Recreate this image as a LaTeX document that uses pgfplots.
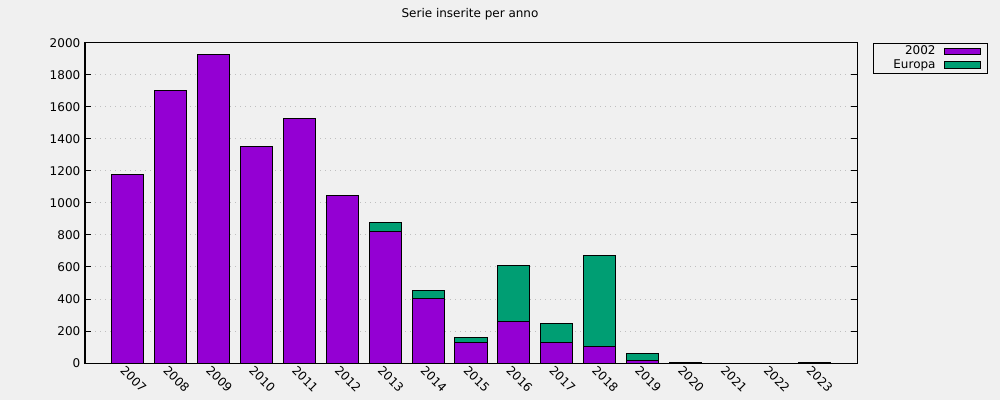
\documentclass[border=0pt]{standalone}
\usepackage{pgfplots}
\pgfplotsset{compat=1.18}
\usepackage{fontspec}
\setmainfont{DejaVu Sans}
\definecolor{bg}{HTML}{F0F0F0}
\definecolor{cpurple}{HTML}{9400D3}
\definecolor{cgreen}{HTML}{009E73}
\begin{document}
\begin{tikzpicture}
\fill[bg] (0pt,0pt) rectangle (750pt,300pt);
\useasboundingbox (0pt,0pt) rectangle (750pt,300pt);
\begin{axis}[
  at={(63.75pt,27.75pt)}, anchor=south west,
  scale only axis, width=579pt, height=240pt,
  font=\fontsize{9}{10.5}\selectfont,
  /pgf/number format/assume math mode=true,
  ybar stacked, bar width=0.75,
  xmin=-1, xmax=17, ymin=0, ymax=2000,
  xtick={0,...,16},
  xticklabels={2007,2008,2009,2010,2011,2012,2013,2014,2015,2016,2017,2018,2019,2020,2021,2022,2023},
  xticklabel style={rotate=-45, anchor=north west, inner sep=1pt, yshift=-1pt, xshift=-1pt},
  major x tick style={draw=none},
  ytick={0,200,...,2000},
  yticklabel style={/pgf/number format/.cd,1000 sep={}},
  ymajorgrids, grid style={gray!50, line width=0.75pt, dash pattern=on 0.75pt off 3pt},
  major tick length=4.5pt,
  tick style={black, line width=0.75pt},
  axis line style={line width=0.75pt},
  tick align=inside,
  axis background/.style={fill=bg},
  title={Serie inserite per anno},
  title style={at={(0.4987,1.066)}, anchor=center, yshift=0pt},
  legend plot pos=right,
  legend cell align=right,
  legend style={at={(1.0207,1)}, anchor=north west, draw=black, line width=0.6pt, fill=bg,
    row sep=-2pt, column sep=4pt, inner xsep=5pt, inner ysep=0pt, font=\fontsize{9}{10.5}\selectfont},
  legend image code/.code={\draw[#1, draw=black, line width=0.75pt] (0pt,-2.4pt) rectangle (27pt,2.4pt);},
]
\addplot[fill=cpurple, draw=black, line width=0.75pt] coordinates {
 (0,1181) (1,1706) (2,1931) (3,1350) (4,1525) (5,1044) (6,823) (7,404) (8,127) (9,260) (10,129) (11,104) (12,15) (13,3) (14,0) (15,0) (16,2)};
\addlegendentry{2002}
\addplot[fill=cgreen, draw=black, line width=0.75pt] coordinates {
 (0,0) (1,0) (2,0) (3,0) (4,0) (5,0) (6,56) (7,50) (8,33) (9,350) (10,119) (11,569) (12,45) (13,3) (14,0) (15,0) (16,4)};
\addlegendentry{\hspace*{8pt}Europa}
\end{axis}
\end{tikzpicture}
\end{document}
